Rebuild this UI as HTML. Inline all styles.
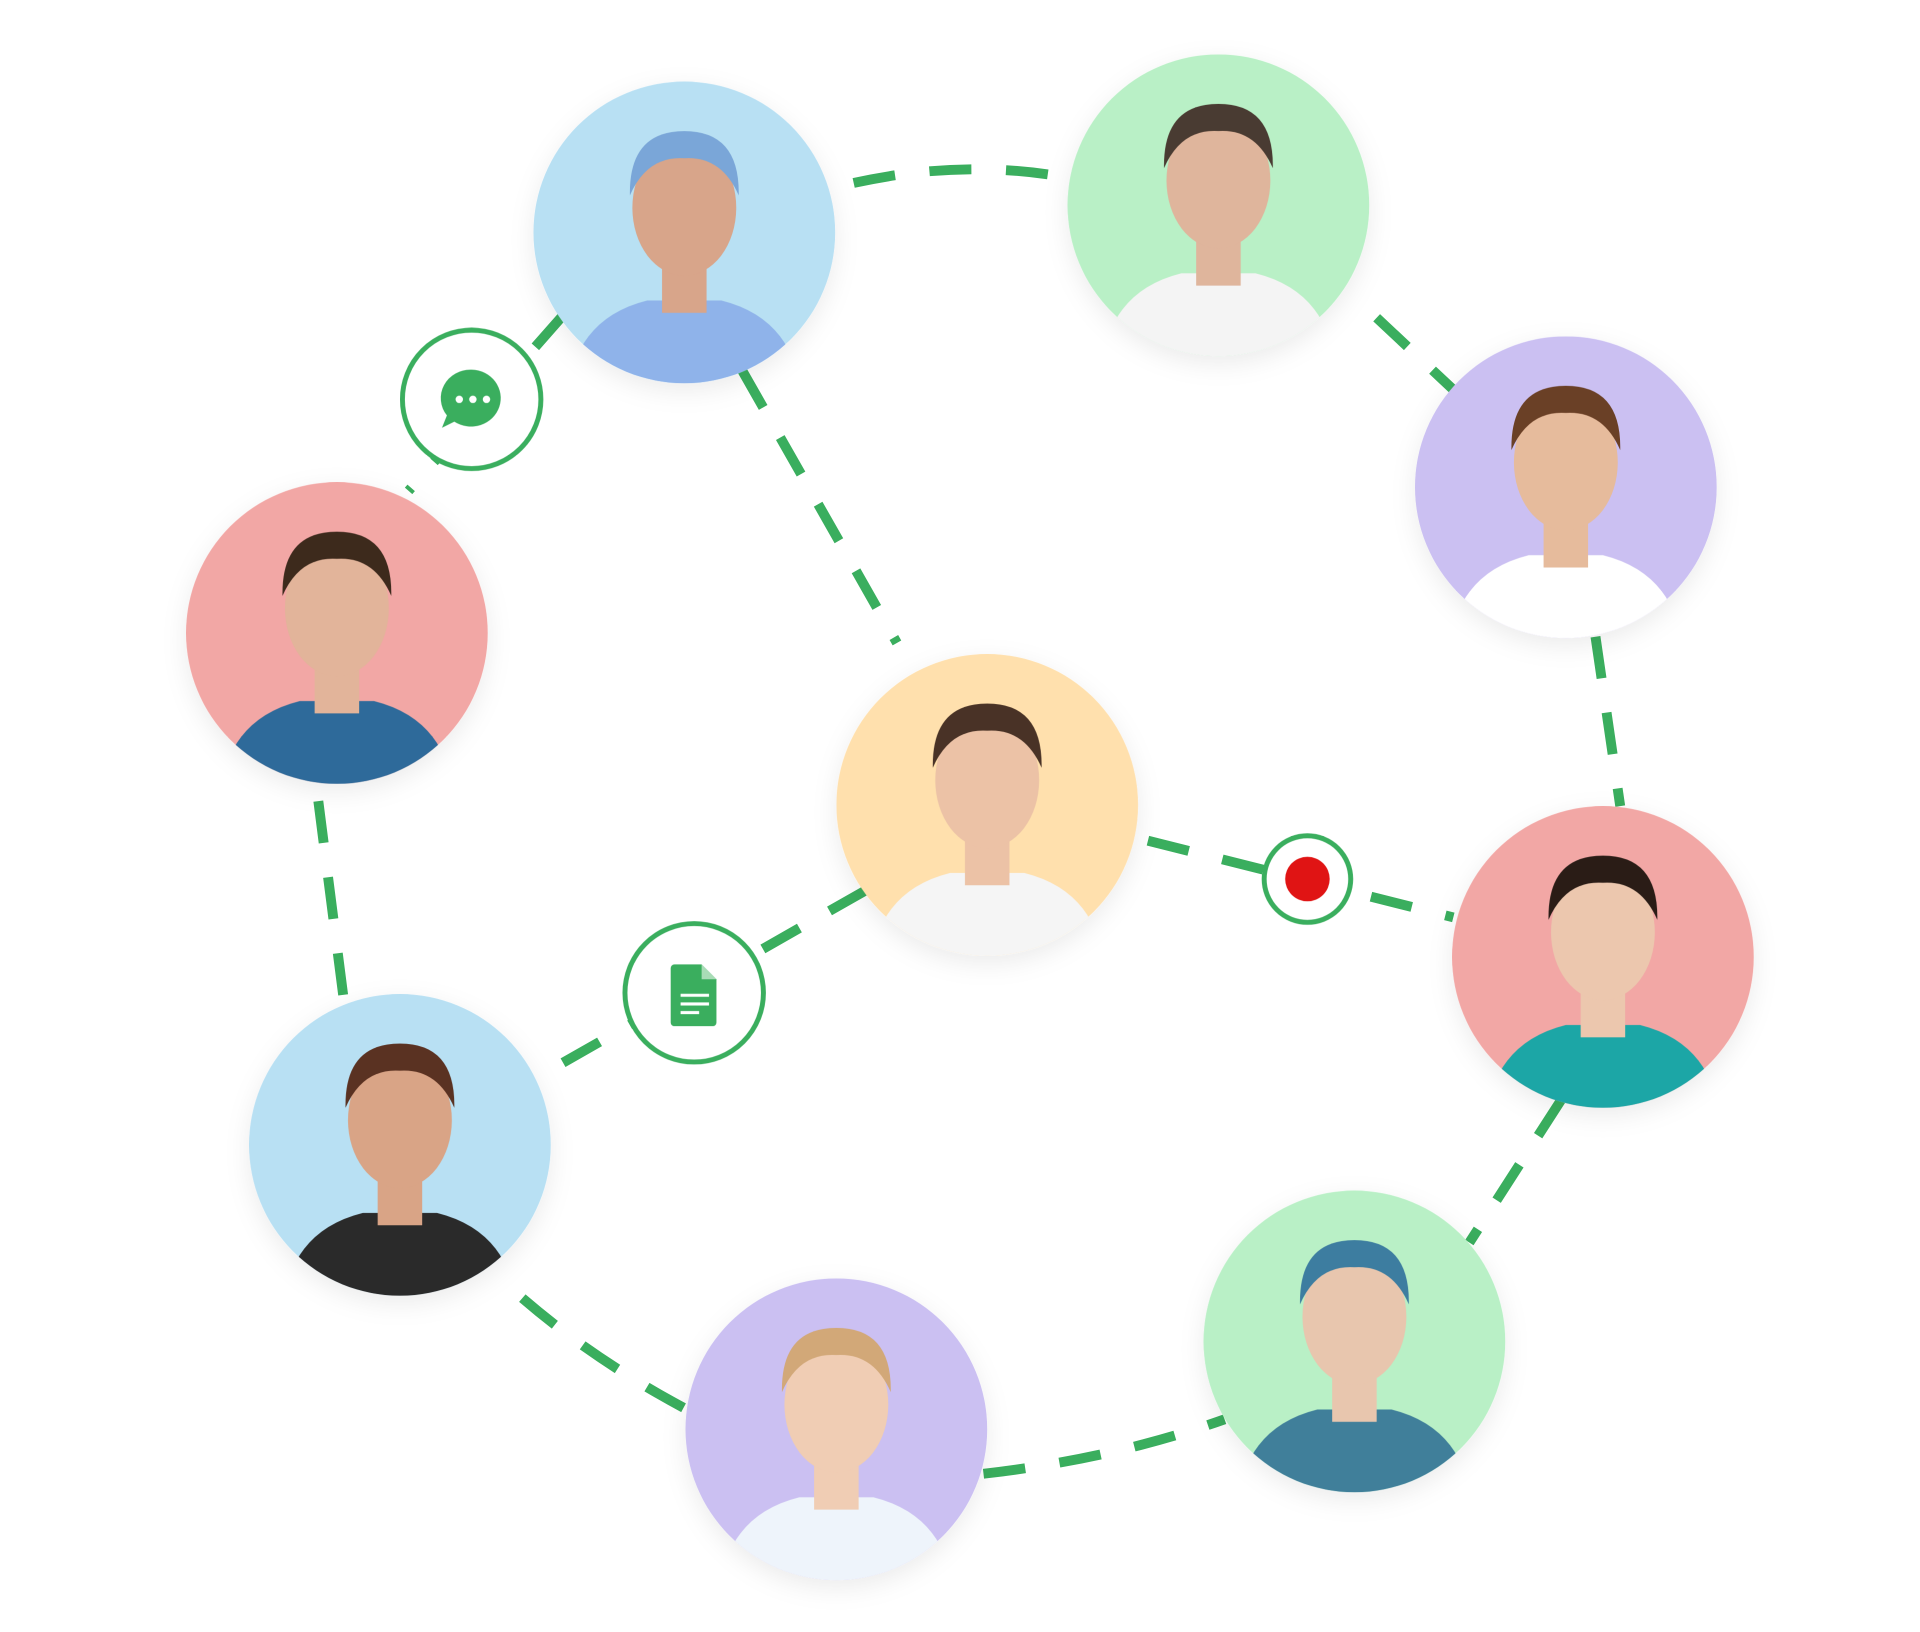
<!DOCTYPE html>
<html><head><meta charset="utf-8"><style>
html,body{margin:0;padding:0;background:#fff;width:1920px;height:1632px;overflow:hidden}
svg{display:block}
</style></head><body>
<svg width="1920" height="1632" viewBox="0 0 1552 1320" xmlns="http://www.w3.org/2000/svg">
<defs>
<filter id="sh" x="-30%" y="-30%" width="160%" height="160%"><feDropShadow dx="0" dy="6" stdDeviation="10" flood-color="#000" flood-opacity="0.08"/></filter>
<clipPath id="c"><circle cx="0" cy="0" r="122"/></clipPath>
<g id="p">
  <path d="M-95 135 Q-90 70 -30 55 L30 55 Q90 70 95 135 Z" fill="var(--shirt)"/>
  <rect x="-18" y="20" width="36" height="45" fill="var(--skin)"/>
  <ellipse cx="0" cy="-20" rx="42" ry="55" fill="var(--skin)"/>
  <path d="M-44 -30 Q-45 -82 0 -82 Q45 -82 44 -30 Q30 -62 0 -60 Q-30 -62 -44 -30Z" fill="var(--hair)"/>
</g>
</defs>
<g fill="none" stroke="#3aae5e" stroke-width="8" stroke-dasharray="34 28">
  <path d="M690 148 Q780 128 865 144"/>
  <path d="M1113 257 L1178 318"/>
  <path d="M455 255 L330 397"/>
  <path d="M600 300 L725 520"/>
  <path d="M257 648 L278 812"/>
  <path d="M1290 515 L1310 652"/>
  <path d="M928 680 L1175 742"/>
  <path d="M700 720 L440 868"/>
  <path d="M1262 890 L1188 1005"/>
  <path d="M422 1050 Q480 1100 555 1140"/>
  <path d="M795 1192 Q900 1180 990 1148"/>
</g>

<g filter="url(#sh)">
<g transform="translate(553,188)" style="--shirt:#8fb3ea;--skin:#d8a58a;--hair:#7aa6d8"><circle r="122" fill="#b8e0f3"/><g clip-path="url(#c)"><use href="#p"/></g></g>
<g transform="translate(985,166)" style="--shirt:#f4f4f4;--skin:#dfb59c;--hair:#4a3a30"><circle r="122" fill="#b9f0c6"/><g clip-path="url(#c)"><use href="#p"/></g></g>
<g transform="translate(1266,394)" style="--shirt:#ffffff;--skin:#e6bb9c;--hair:#6b3f25"><circle r="122" fill="#cbc0f2"/><g clip-path="url(#c)"><use href="#p"/></g></g>
<g transform="translate(272,512)" style="--shirt:#2f6b9a;--skin:#e2b49a;--hair:#3e2a1e"><circle r="122" fill="#f2a7a5"/><g clip-path="url(#c)"><use href="#p"/></g></g>
<g transform="translate(798,651)" style="--shirt:#f5f5f5;--skin:#ecc2a6;--hair:#4a3326"><circle r="122" fill="#ffe0ad"/><g clip-path="url(#c)"><use href="#p"/></g></g>
<g transform="translate(1296,774)" style="--shirt:#1ea6a6;--skin:#ecc7ae;--hair:#2a1e18"><circle r="122" fill="#f2a7a5"/><g clip-path="url(#c)"><use href="#p"/></g></g>
<g transform="translate(323,926)" style="--shirt:#2a2a2a;--skin:#d9a486;--hair:#5a3020"><circle r="122" fill="#b8e0f3"/><g clip-path="url(#c)"><use href="#p"/></g></g>
<g transform="translate(1095,1085)" style="--shirt:#3f7f9a;--skin:#e8c6ae;--hair:#3d7da0"><circle r="122" fill="#b9f0c6"/><g clip-path="url(#c)"><use href="#p"/></g></g>
<g transform="translate(676,1156)" style="--shirt:#eef4fb;--skin:#f0cdb4;--hair:#d2a878"><circle r="122" fill="#cbc0f2"/><g clip-path="url(#c)"><use href="#p"/></g></g>
</g>

<circle cx="381" cy="323" r="56" fill="#fff" stroke="#3aae5e" stroke-width="4"/>
<path d="M381 299 a24 23 0 1 1 -14 42 l-10 5 l4 -10 a24 23 0 0 1 20 -37z" fill="#3aae5e"/>
<circle cx="371" cy="323" r="3" fill="#fff"/><circle cx="382" cy="323" r="3" fill="#fff"/><circle cx="393" cy="323" r="3" fill="#fff"/>

<circle cx="561" cy="803" r="56" fill="#fff" stroke="#3aae5e" stroke-width="4"/>
<path d="M545 780 h22 l12 12 v35 a3 3 0 0 1 -3 3 h-31 a3 3 0 0 1 -3 -3 v-44 a3 3 0 0 1 3 -3z" fill="#3aae5e"/>
<path d="M567 780 v12 h12z" fill="#a8dcb6"/>
<g stroke="#fff" stroke-width="2.5"><line x1="550" y1="805" x2="573" y2="805"/><line x1="550" y1="812" x2="573" y2="812"/><line x1="550" y1="819" x2="565" y2="819"/></g>

<circle cx="1057" cy="711" r="35" fill="#fff" stroke="#3aae5e" stroke-width="4"/>
<circle cx="1057" cy="711" r="18" fill="#e01414"/>
</svg>
</body></html>
